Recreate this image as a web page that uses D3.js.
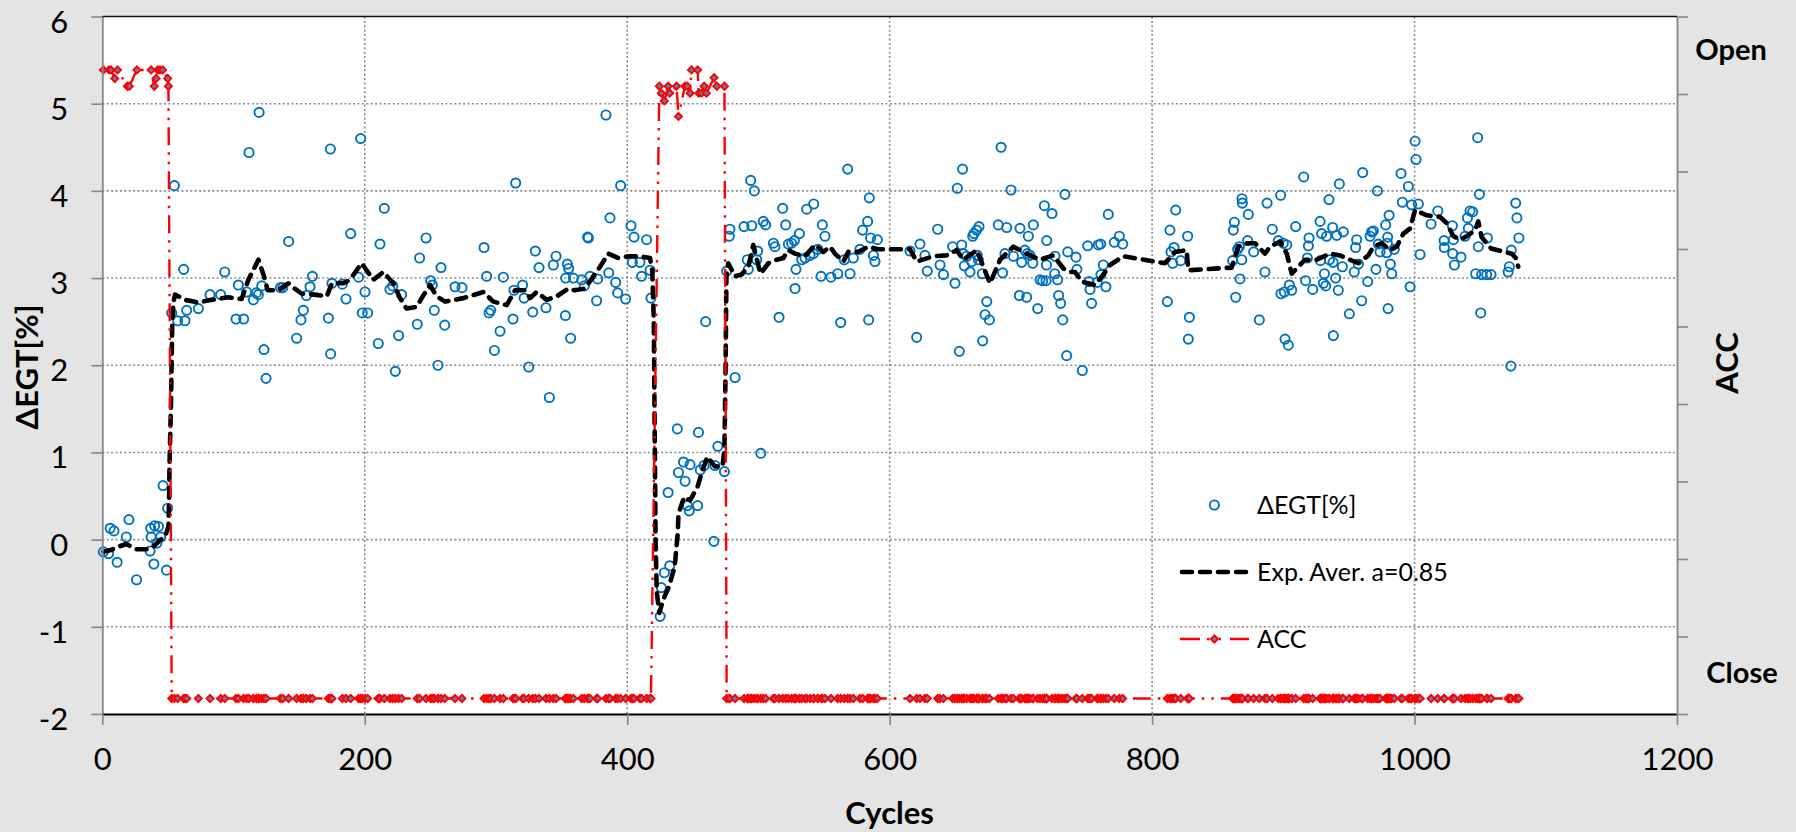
<!DOCTYPE html>
<html><head><meta charset="utf-8">
<script src="https://cdn.jsdelivr.net/npm/d3@7"></script>
<style>
html,body{margin:0;padding:0;background:#e4e4e4;}
svg{display:block;font-family:Lato,"Liberation Sans",sans-serif;}
</style></head><body>
<svg id="chart" width="1796" height="832"></svg>
<script>
// ---------- DATA ----------
const xTicks = [0,200,400,600,800,1000,1200];
const yTicks = [-2,-1,0,1,2,3,4,5,6];
const y2Ticks = [0,1,2,3,4,5,6,7,8,9];
const accLabels = ["Open","Close"];
const legendLabels = ["ΔEGT[%]","Exp. Aver. a=0.85","ACC"];

const egtCycles = [
0.8,4.8,6.0,8.9,11.3,18.3,20.3,26.1,36.4,36.9,
37.2,39.3,39.9,41.6,42.8,44.5,46.3,48.9,49.8,52.9,
54.9,57.4,62.0,63.0,64.3,73.2,82.1,90.2,93.3,101.9,
103.7,107.7,110.0,111.8,115.1,117.4,118.9,119.5,121.5,123.2,
124.8,135.7,137.5,142.0,148.1,151.4,153.2,155.5,158.3,160.1,
172.3,173.8,174.0,175.0,182.9,185.7,189.3,195.3,196.9,198.1,
200.2,202.2,210.3,211.6,214.9,219.2,221.3,223.3,225.8,228.1,
240.0,241.8,246.7,250.2,251.5,253.0,255.8,258.1,260.9,268.8,
274.1,290.9,292.9,294.7,296.0,298.8,303.1,305.6,313.0,313.7,
315.0,320.3,321.4,324.9,328.0,330.0,332.8,338.1,340.7,343.7,
345.8,352.9,353.1,354.4,355.4,356.9,359.0,365.3,367.3,369.8,
370.4,371.6,376.7,377.5,383.8,385.9,386.9,391.2,392.7,395.0,
398.8,402.9,403.9,405.2,409.7,411.0,414.8,417.4,418.1,425.1,
426.0,428.3,431.2,432.4,438.2,439.1,442.9,444.1,445.8,447.3,
447.9,453.7,454.3,455.7,458.6,459.8,466.0,466.8,469.1,474.1,
475.8,477.8,478.3,482.2,489.0,491.5,492.3,494.1,494.9,496.9,
498.7,499.4,501.8,503.7,505.5,511.4,512.6,515.7,518.5,520.8,
522.8,525.3,527.4,527.9,528.6,531.2,533.0,535.5,536.8,539.3,
541.9,542.1,545.2,547.7,548.7,550.7,555.3,560.4,562.7,565.4,
568.0,569.8,572.3,577.4,579.4,583.2,584.0,584.5,585.5,587.6,
588.8,590.6,615.5,620.6,623.1,626.9,628.7,636.6,638.4,641.0,
648.0,649.8,651.6,653.1,654.9,655.6,656.1,656.9,658.7,661.2,
662.5,663.3,664.3,666.3,666.8,667.6,668.1,670.6,670.9,672.7,
674.0,676.0,682.8,684.9,686.1,687.9,689.2,692.5,694.3,698.8,
699.3,700.6,703.1,704.4,704.9,705.7,707.0,709.0,709.5,712.8,
714.6,716.6,717.9,719.2,719.5,719.7,723.7,725.8,726.0,728.0,
728.8,730.3,731.9,733.6,734.9,735.7,742.0,742.7,746.8,750.9,
751.9,752.7,753.9,758.2,759.0,760.8,761.0,762.8,764.8,766.6,
771.2,775.0,777.6,811.6,813.6,814.4,815.7,816.7,818.0,821.8,
827.1,827.6,828.4,861.4,861.9,862.7,863.7,865.2,866.5,867.0,
868.3,868.5,868.8,872.8,873.3,877.4,881.7,886.0,887.6,891.6,
896.2,898.0,898.2,900.0,900.8,901.3,902.6,903.8,904.6,906.4,
909.4,915.5,917.0,918.3,919.1,919.6,922.4,928.0,928.3,929.2,
930.5,931.3,932.3,933.0,934.8,935.1,937.6,937.9,938.1,939.9,
940.7,941.9,942.7,945.0,945.7,950.3,954.1,955.1,955.9,957.2,
959.7,960.5,964.3,966.1,967.3,968.6,970.6,971.7,972.4,973.7,
978.0,978.8,979.3,979.5,979.8,980.6,981.6,982.6,984.6,989.7,
990.7,995.3,996.6,997.8,1000.4,1001.1,1002.9,1004.2,1012.6,1017.7,
1022.5,1022.7,1028.8,1029.1,1029.6,1030.4,1035.4,1038.5,1040.3,1041.0,
1042.3,1044.3,1046.6,1048.1,1048.6,1049.4,1050.4,1051.2,1055.0,1055.5,
1058.3,1071.3,1072.2,1073.4,1073.7,1077.1,1078.0,1079.5];

const egtValues = [
-0.14,-0.16,0.13,0.10,-0.26,0.03,0.23,-0.46,-0.13,0.13,
0.03,-0.28,0.16,-0.04,0.15,0.03,0.62,-0.35,0.36,2.60,
4.06,2.51,3.10,2.51,2.63,2.65,2.81,2.81,3.07,2.53,
2.92,2.53,2.84,4.44,2.75,2.83,2.81,4.90,2.91,2.18,
1.85,2.89,2.89,3.42,2.31,2.52,2.63,2.80,2.90,3.02,
2.54,4.48,2.13,2.94,2.93,2.76,3.51,3.01,4.60,2.60,
2.84,2.60,2.25,3.39,3.80,2.87,2.91,1.93,2.34,2.81,
2.47,3.23,3.46,2.97,2.92,2.63,2.00,3.12,2.46,2.90,
2.89,3.35,3.02,2.60,2.63,2.17,2.39,3.01,2.53,2.86,
4.09,2.92,2.77,1.98,2.61,3.31,3.12,2.66,1.63,3.15,
3.25,2.57,3.00,3.16,3.11,2.31,3.00,2.98,2.91,3.47,
3.46,3.02,2.74,2.99,4.87,3.06,3.69,2.95,2.83,4.06,
2.76,3.60,3.18,3.47,3.18,3.02,3.44,3.09,2.77,-0.88,
-0.55,-0.38,0.54,-0.30,1.27,0.77,0.89,0.67,0.39,0.33,
0.86,0.39,1.23,0.80,0.85,2.50,-0.02,0.85,1.07,0.78,
3.08,3.48,3.56,1.86,3.59,3.21,3.10,4.12,3.60,4.00,
3.21,3.31,0.99,3.65,3.61,3.40,3.36,2.55,3.80,3.61,
3.39,3.40,3.43,2.88,3.10,3.51,3.21,3.23,3.79,3.26,
3.28,3.85,3.33,3.02,3.61,3.48,3.01,3.05,2.49,3.21,
4.25,3.05,3.23,3.33,3.55,3.65,2.52,3.92,3.46,3.26,
3.19,3.44,3.31,2.32,3.39,3.26,3.08,3.56,3.15,3.04,
3.36,2.94,4.03,2.16,3.38,4.25,3.28,3.14,3.25,3.07,
3.19,3.48,3.51,3.55,3.26,3.21,3.59,3.05,2.28,2.58,
2.73,2.52,3.61,4.50,3.06,3.28,3.58,4.01,3.25,2.80,
3.57,3.18,3.32,2.78,3.28,3.48,3.26,3.17,3.61,2.65,
2.98,2.97,3.83,2.97,3.15,3.43,3.74,3.05,3.25,2.98,
2.80,2.71,2.52,3.96,2.11,3.30,3.24,3.10,1.94,3.37,
2.96,2.87,2.71,2.95,3.38,3.39,3.04,3.15,2.90,3.73,
3.41,3.48,3.39,2.73,3.55,3.30,3.17,3.35,3.78,3.20,
3.48,2.30,2.55,3.20,3.55,3.64,2.78,3.33,3.36,2.99,
3.21,3.91,3.86,3.43,3.73,3.30,2.52,3.07,3.86,3.56,
3.43,3.95,2.82,3.40,2.84,2.30,3.38,2.23,2.92,2.86,
3.59,4.16,2.97,3.23,3.37,3.46,2.87,3.65,3.20,3.51,
2.94,3.05,2.91,3.48,3.90,3.21,3.58,3.18,2.34,3.00,
3.49,2.86,4.08,3.13,3.53,2.59,3.07,3.35,3.44,3.16,
2.74,4.21,2.96,3.48,3.53,3.54,3.10,4.00,3.39,3.30,
3.61,3.29,3.40,3.47,2.65,3.72,3.16,3.05,3.33,4.20,
3.87,4.05,2.90,3.84,4.57,4.36,3.85,3.27,3.62,3.77,
3.43,3.35,3.60,3.28,3.44,3.15,3.24,3.48,3.69,3.57,
3.77,3.76,3.05,4.61,3.36,3.96,2.60,3.04,3.04,3.46,
3.04,3.07,3.13,1.99,3.32,3.86,3.69,3.46];

const emaCycles = [
0.8,6.6,12.4,18.3,25.6,34.3,38.7,44.5,48.0,50.4,
50.9,51.2,51.8,52.4,52.9,53.3,54.1,55.4,63.0,73.0,
83.3,96.0,106.2,111.3,119.0,123.2,126.0,134.0,141.8,145.6,
152.0,162.0,171.0,175.0,183.7,188.7,197.6,206.5,214.2,221.8,
226.9,231.9,239.6,243.4,249.7,254.8,261.2,275.1,290.4,298.0,
308.2,314.5,322.1,326.0,331.0,338.6,346.3,355.2,360.0,367.8,
379.3,385.6,393.2,400.9,409.7,417.4,419.1,420.3,420.8,421.2,
421.6,422.5,424.5,427.4,431.8,436.2,438.5,439.1,443.5,447.9,
453.7,456.6,461.0,466.8,472.6,474.1,475.0,475.6,477.0,482.1,
487.2,492.3,496.1,501.5,507.6,513.9,519.0,522.8,527.9,535.5,
543.1,549.5,554.5,558.3,564.7,568.5,576.1,583.7,591.4,615.5,
620.6,633.3,643.4,651.1,656.1,666.3,676.5,684.1,694.3,704.4,
714.6,724.7,732.4,737.4,741.2,746.3,756.5,765.4,767.9,778.1,
809.8,817.4,826.3,827.6,828.4,860.6,865.7,872.1,878.4,886.0,
889.9,897.5,902.6,906.4,911.4,916.5,925.4,935.6,943.2,950.8,
957.2,964.8,968.6,975.0,981.3,986.4,991.5,996.6,1000.4,1009.3,
1019.4,1024.5,1029.6,1034.7,1039.8,1046.1,1048.6,1051.1,1058.3,1068.4,
1074.2,1077.1,1079.0];

const emaValues = [
-0.14,-0.12,-0.08,-0.05,-0.11,-0.11,-0.08,0.00,0.04,0.15,
0.45,0.84,1.22,1.60,2.10,2.48,2.71,2.81,2.75,2.72,
2.75,2.78,2.76,2.98,3.21,3.02,2.86,2.86,2.94,2.89,
2.82,2.81,2.79,2.94,2.94,2.98,3.17,2.98,3.07,2.94,
2.77,2.65,2.67,2.77,2.92,2.79,2.73,2.77,2.84,2.73,
2.69,2.86,2.86,2.77,2.84,2.75,2.79,2.88,2.86,2.88,
3.13,3.28,3.23,3.25,3.25,3.23,3.09,2.50,1.50,0.80,
0.00,-0.60,-0.84,-0.69,-0.54,-0.31,0.07,0.30,0.49,0.45,
0.61,0.76,0.95,0.84,0.84,1.03,2.00,3.02,3.17,3.02,
3.04,3.13,3.38,3.05,3.17,3.21,3.23,3.32,3.28,3.25,
3.38,3.30,3.36,3.28,3.19,3.30,3.30,3.36,3.33,3.33,
3.19,3.25,3.26,3.32,3.21,3.32,2.94,3.21,3.36,3.28,
3.21,3.26,3.11,3.07,3.07,2.96,2.92,3.09,3.15,3.25,
3.17,3.30,3.32,3.09,3.09,3.12,3.36,3.40,3.40,3.28,
3.36,3.42,3.28,3.05,3.13,3.21,3.21,3.28,3.26,3.21,
3.17,3.26,3.36,3.40,3.32,3.36,3.51,3.57,3.78,3.72,
3.70,3.63,3.48,3.44,3.48,3.55,3.65,3.47,3.34,3.30,
3.28,3.23,3.13];

// ACC (secondary axis) – open-valve readings
const accOpen1Cycles = [0.8,5.1,6.6,9.5,11.6,19.1,20.6,26.4,37.2,39.6,41.0,42.2,43.9,46.0,49.8,50.4];
const accOpen1Values = [8.31,8.31,8.31,8.20,8.31,8.10,8.10,8.31,8.31,8.10,8.20,8.31,8.31,8.31,8.20,8.10];
const accOpen2Cycles = [424.5,426.0,428.3,431.2,432.4,437.6,439.1,444.0,445.8,447.9,449.0,453.7,454.5,456.6,458.6,460.4,466.2,468.3,474.1];
const accOpen2Values = [8.10,8.01,7.91,8.10,8.01,8.10,7.71,8.10,8.10,8.01,8.31,8.31,8.01,8.01,8.10,8.01,8.21,8.10,8.10];
const accCloseValue = 0.2;

// ---------- BUILD ----------
const egt = egtCycles.map((c,i)=>({c, v:egtValues[i]}));
const ema = emaCycles.map((c,i)=>({c, v:emaValues[i]}));
const open1End = accOpen1Cycles[accOpen1Cycles.length-1];
const open2Start = accOpen2Cycles[0];
const open2End = accOpen2Cycles[accOpen2Cycles.length-1];
const accClosed = egtCycles.filter(c => (c>open1End && c<open2Start) || c>open2End)
  .map(c=>({c, v:accCloseValue}));
const acc = accOpen1Cycles.map((c,i)=>({c,v:accOpen1Values[i]}))
  .concat(accOpen2Cycles.map((c,i)=>({c,v:accOpen2Values[i]})))
  .concat(accClosed).sort((a,b)=>a.c-b.c);

const W=1796, H=832;
const P = {left:102.3, right:1677, top:16.5, bottom:714};
const svg = d3.select("#chart");
const x = d3.scaleLinear().domain([0,1200]).range([P.left,P.right]);
const y = d3.scaleLinear().domain([-2,6]).range([P.bottom,P.top]);
const y2 = d3.scaleLinear().domain([0,9]).range([P.bottom,P.top]);

svg.append("rect").attr("width",W).attr("height",H).attr("fill","#e4e4e4");
svg.append("rect").attr("x",P.left).attr("y",P.top)
  .attr("width",P.right-P.left).attr("height",P.bottom-P.top).attr("fill","#ffffff");

// grid
const grid = svg.append("g").attr("stroke","#8c8c8c").attr("stroke-width",1.6).attr("stroke-dasharray","2,2.4");
grid.selectAll(".vg").data(xTicks.slice(1,-1)).join("line")
  .attr("x1",d=>x(d)).attr("x2",d=>x(d)).attr("y1",P.top).attr("y2",P.bottom);
grid.selectAll(".hg").data(yTicks.slice(1,-1)).join("line")
  .attr("x1",P.left).attr("x2",P.right).attr("y1",d=>y(d)).attr("y2",d=>y(d));

// EGT circles
svg.append("g").selectAll("circle").data(egt).join("circle")
  .attr("cx",d=>x(d.c)).attr("cy",d=>y(d.v)).attr("r",4.6)
  .attr("fill","none").attr("stroke","#0070C0").attr("stroke-width",1.9);

// EMA line
const lineL = d3.line().x(d=>x(d.c)).y(d=>y(d.v));
svg.append("path").datum(ema).attr("d",lineL).attr("fill","none")
  .attr("stroke","#000").attr("stroke-width",4.6).attr("stroke-dasharray","10,8")
  .attr("stroke-linecap","round").attr("stroke-linejoin","round");

// ACC line + diamonds
const accDash = "18,7,2.5,7,2.5,7";
const lineR = d3.line().x(d=>x(d.c)).y(d=>y2(d.v));
svg.append("path").datum(acc).attr("d",lineR).attr("fill","none")
  .attr("stroke","#ff0000").attr("stroke-width",2.4).attr("stroke-dasharray",accDash);
const diamond = d3.symbol(d3.symbolSquare, 26);
svg.append("g").selectAll("path").data(acc).join("path")
  .attr("d",diamond)
  .attr("transform",d=>`translate(${x(d.c)},${y2(d.v)}) rotate(45)`)
  .attr("fill","#5b7fb4").attr("stroke","#ff0000").attr("stroke-width",1.8);

// axes
const axisColor = "#868686";
const fmt = d => String(d);
const left = svg.append("g").attr("transform",`translate(${P.left},0)`)
  .call(d3.axisLeft(y).tickValues(yTicks).tickSize(11).tickSizeOuter(0).tickPadding(23).tickFormat(fmt));
const bottom = svg.append("g").attr("transform",`translate(0,${P.bottom})`)
  .call(d3.axisBottom(x).tickValues(xTicks).tickSize(11).tickSizeOuter(0).tickPadding(23).tickFormat(fmt));
const right = svg.append("g").attr("transform",`translate(${P.right},0)`)
  .call(d3.axisRight(y2).tickValues(y2Ticks).tickSize(11).tickSizeOuter(0).tickFormat(()=>""));
[left,bottom,right].forEach(g=>{
  g.selectAll(".tick line").attr("stroke",axisColor).attr("stroke-width",1.6);
  g.select(".domain").attr("stroke",axisColor).attr("stroke-width",1.8);
  g.selectAll("text").attr("font-family","Lato, 'Liberation Sans', sans-serif")
    .attr("font-size",31).attr("fill","#000");
});
left.selectAll("text").attr("dy","0.5em");
bottom.select(".domain").attr("stroke","#000").attr("stroke-width",2.2);
svg.append("line").attr("x1",P.left).attr("x2",P.right).attr("y1",P.top).attr("y2",P.top)
  .attr("stroke","#111").attr("stroke-width",1.4);

// titles
svg.append("text").attr("x",(P.left+P.right)/2).attr("y",824).attr("text-anchor","middle")
  .attr("font-size",31).attr("font-weight","bold").text("Cycles");
svg.append("text").attr("transform",`translate(38,367) rotate(-90)`).attr("text-anchor","middle")
  .attr("font-size",31).attr("font-weight","bold").text("ΔEGT[%]");
svg.append("text").attr("transform",`translate(1738,363) rotate(-90)`).attr("text-anchor","middle")
  .attr("font-size",31).attr("font-weight","bold").text("ACC");
svg.append("text").attr("x",1731).attr("y",59.5).attr("text-anchor","middle")
  .attr("font-size",29).attr("font-weight","bold").text(accLabels[0]);
svg.append("text").attr("x",1742).attr("y",683).attr("text-anchor","middle")
  .attr("font-size",29).attr("font-weight","bold").text(accLabels[1]);

// legend
const lg = svg.append("g");
lg.append("circle").attr("cx",1214.4).attr("cy",505).attr("r",4.6)
  .attr("fill","none").attr("stroke","#0070C0").attr("stroke-width",1.9);
lg.append("line").attr("x1",1182).attr("x2",1247).attr("y1",572).attr("y2",572)
  .attr("stroke","#000").attr("stroke-width",4.6).attr("stroke-dasharray","10,8").attr("stroke-linecap","round");
lg.append("line").attr("x1",1180).attr("x2",1249).attr("y1",639).attr("y2",639)
  .attr("stroke","#ff0000").attr("stroke-width",2.4).attr("stroke-dasharray","20,7,2.5,9,2.5,9");
lg.append("path").attr("d",diamond).attr("transform","translate(1214.4,639) rotate(45)")
  .attr("fill","#5b7fb4").attr("stroke","#ff0000").attr("stroke-width",1.8);
[505,572,639].forEach((yy,i)=>{
  lg.append("text").attr("x",1257).attr("y",yy+9).attr("font-size",25).attr("fill","#000").text(legendLabels[i]);
});
</script>
</body></html>
